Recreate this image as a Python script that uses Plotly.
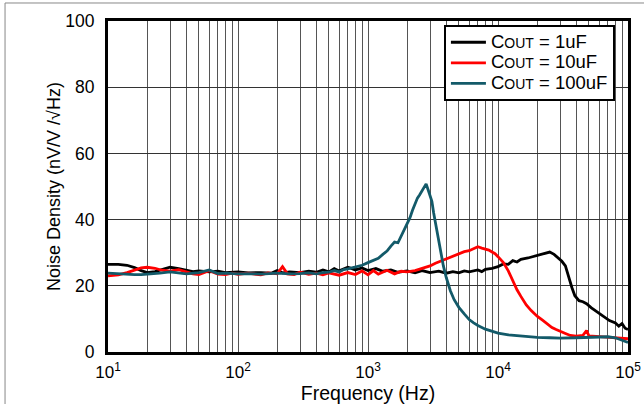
import plotly.graph_objects as go

# ---------------- data ----------------
f_1u = [10, 12, 14, 16, 18, 20, 23, 26, 30, 35, 40, 45, 50, 60, 70, 80, 100, 120, 150, 180,
        200, 220, 250, 300, 350, 400, 450, 500, 550, 600, 700, 800, 900, 1000, 1150, 1300,
        1500, 1700, 2000, 2300, 2600, 3000, 3500, 4000, 4500, 5000, 5500, 6000, 7000, 7500,
        8000, 9000, 10000, 11000, 12000, 13000, 14000, 15000, 17000, 19000, 21000, 23000,
        25000, 27000, 29000, 31000, 33000, 35000, 37000, 39000, 42000, 45000, 48000, 52000,
        58000, 65000, 72000, 80000, 85000, 90000, 95000, 100000]
n_1u = [26.5, 26.5, 26.2, 25.5, 24.6, 24.0, 24.3, 25.0, 25.6, 25.2, 24.6, 24.3, 24.5, 24.2,
        24.4, 24.0, 24.2, 23.9, 24.0, 23.8, 24.6, 23.9, 24.2, 24.0, 24.4, 24.1, 24.8, 24.2,
        25.2, 24.5, 25.6, 24.8, 25.4, 24.6, 25.2, 24.4, 24.8, 24.1, 24.5, 23.9, 24.6, 24.0,
        24.4, 23.8, 24.3, 23.9, 24.5, 24.2, 24.8, 24.3, 25.0, 25.3, 25.8, 26.6, 26.5, 27.6,
        27.2, 28.0, 28.4, 28.9, 29.3, 29.8, 30.2, 29.5, 28.5, 27.4, 26.0, 22.5, 19.5, 17.0,
        15.5, 15.2, 14.6, 13.4, 12.0, 10.8, 9.5, 8.8, 7.8, 8.6, 7.2, 6.8]

f_10u = [10, 12, 14, 16, 18, 20, 23, 26, 30, 35, 40, 45, 50, 55, 60, 65, 70, 80, 90, 100,
         120, 150, 170, 200, 220, 240, 270, 300, 350, 400, 450, 500, 600, 700, 800, 900, 1000,
         1100, 1200, 1400, 1600, 1800, 2000, 2300, 2600, 3000, 3300, 3600, 4000, 4500, 5000,
         5500, 6000, 6500, 7000, 7500, 8000, 8500, 9000, 9500, 10000, 11000, 12000, 13000,
         14000, 15000, 16500, 18000, 20000, 22000, 24000, 26000, 28000, 30000, 33000, 36000,
         40000, 45000, 48000, 50000, 55000, 60000, 70000, 80000, 90000, 100000]
n_10u = [23.0, 23.3, 24.0, 24.8, 25.4, 25.6, 25.3, 24.7, 24.4, 24.9, 24.3, 23.6, 23.4, 24.0,
         24.6, 24.0, 23.5, 23.4, 23.8, 23.5, 23.8, 23.3, 23.9, 23.6, 25.8, 23.6, 23.4, 24.1,
         23.5, 23.8, 23.3, 23.9, 23.2, 24.0, 23.4, 24.5, 23.3, 24.6, 23.5, 24.7, 23.6, 24.4,
         24.2, 24.6, 25.2, 26.0, 26.8, 27.4, 28.0, 28.8, 29.6, 30.3, 30.6, 31.2, 31.8, 31.4,
         31.0, 30.8, 30.2, 29.7, 28.8, 27.0, 24.5, 21.5, 18.8, 16.8, 14.2, 12.5, 10.8, 9.6,
         8.3, 7.4, 6.8, 6.2, 5.6, 5.0, 4.8, 5.0, 6.5, 4.9, 4.8, 4.7, 4.5, 4.4, 4.3, 4.0]

f_100u = [10, 12, 14, 16, 18, 20, 25, 30, 35, 40, 50, 60, 65, 70, 80, 100, 120, 150, 200,
          250, 300, 350, 400, 450, 500, 550, 600, 650, 700, 800, 900, 1000, 1100, 1200, 1300,
          1400, 1500, 1600, 1700, 1800, 1900, 2000, 2100, 2200, 2300, 2400, 2500, 2600, 2700,
          2800, 2900, 3000, 3100, 3200, 3300, 3400, 3500, 3600, 3800, 4000, 4300, 4600, 5000,
          5500, 6000, 6500, 7000, 8000, 9000, 10000, 12000, 14000, 17000, 20000, 25000, 30000,
          40000, 50000, 60000, 70000, 80000, 90000, 100000]
n_100u = [23.8, 23.6, 23.5, 23.4, 23.4, 23.5, 23.8, 24.2, 24.0, 23.6, 24.0, 24.8, 24.2, 23.7,
          23.8, 23.6, 23.7, 23.5, 23.8, 23.6, 23.7, 23.9, 23.6, 24.0, 24.1, 24.6, 24.2, 24.9,
          25.1, 25.8, 26.2, 27.0, 27.8, 28.3, 29.5, 30.5, 32.0, 33.2, 33.0, 35.0, 36.5, 38.5,
          40.5, 42.8, 44.5, 46.5, 47.5, 48.6, 49.5, 50.8, 49.0, 47.5, 45.5, 42.0, 39.0, 36.0,
          33.0, 30.0, 26.0, 22.5, 18.5, 15.8, 13.5, 11.5, 9.8, 8.8, 8.0, 6.9, 6.2, 5.7, 5.2,
          4.9, 4.6, 4.4, 4.3, 4.2, 4.3, 4.4, 4.5, 4.6, 4.3, 3.6, 2.9]

cap_values = ["1uF", "10uF", "100uF"]
colors = ["#000000", "#ff0000", "#135a69"]

x_tickvals = [10, 100, 1000, 10000, 100000]
x_ticktext = ["10<sup>1</sup>", "10<sup>2</sup>", "10<sup>3</sup>", "10<sup>4</sup>", "10<sup>5</sup>"]
y_tickvals = [0, 20, 40, 60, 80, 100]

FONT = "Arial, Liberation Sans, sans-serif"


def legend_name(v):
    return ("<span style='font-size:18.5px'>C</span>"
            "<span style='font-size:14px'>OUT</span>"
            "<span style='font-size:18.5px'> = " + v + "</span>")


fig = go.Figure()
for fx, ny, v, c in [(f_1u, n_1u, cap_values[0], colors[0]),
                     (f_10u, n_10u, cap_values[1], colors[1]),
                     (f_100u, n_100u, cap_values[2], colors[2])]:
    fig.add_trace(go.Scatter(x=fx, y=ny, mode="lines", name=legend_name(v),
                             line=dict(color=c, width=2.8)))

minor_vals = [m * 10 ** d for d in range(1, 5) for m in range(2, 10)]

fig.update_layout(
    template="none",
    width=644, height=404,
    margin=dict(l=108, r=16, t=21, b=52),
    paper_bgcolor="white", plot_bgcolor="white",
    font=dict(family=FONT, color="black"),
    showlegend=True,
    legend=dict(x=0.646, y=0.988, xanchor="left", yanchor="top",
                bgcolor="white", bordercolor="black", borderwidth=2,
                font=dict(family=FONT, size=13.5, color="black"),
                tracegroupgap=0, itemwidth=35),
    xaxis=dict(type="log", range=[1, 5], automargin=False,
               tickvals=x_tickvals, ticktext=x_ticktext,
               tickfont=dict(family=FONT, size=17, color="black"),
               ticklabelstandoff=3,
               showgrid=True, gridcolor="#555555", gridwidth=1,
               minor=dict(tickvals=minor_vals, showgrid=True, gridcolor="#555555", gridwidth=1, ticks=""),
               showline=True, linecolor="black", linewidth=3, mirror=True,
               ticks="", zeroline=False,
               title=dict(text="Frequency (Hz)", font=dict(family=FONT, size=19.5, color="black"), standoff=4)),
    yaxis=dict(range=[0, 100], tickvals=y_tickvals, automargin=False,
               tickfont=dict(family=FONT, size=17.5, color="black"),
               ticklabelstandoff=7,
               showgrid=True, gridcolor="#333333", gridwidth=1,
               showline=True, linecolor="black", linewidth=3, mirror=True,
               ticks="", zeroline=False,
               title=dict(text="Noise Density (nV/V /√Hz)", font=dict(family=FONT, size=18, color="black"), standoff=0)),
    shapes=[
        dict(type="line", xref="paper", yref="paper", x0=-0.198, x1=-0.198, y0=-0.3, y1=1.0544,
             line=dict(color="#888888", width=1)),
        dict(type="line", xref="paper", yref="paper", x0=-0.198, x1=1.1, y0=1.0544, y1=1.0544,
             line=dict(color="#888888", width=1)),
    ],
)

fig.write_html("out.html")
